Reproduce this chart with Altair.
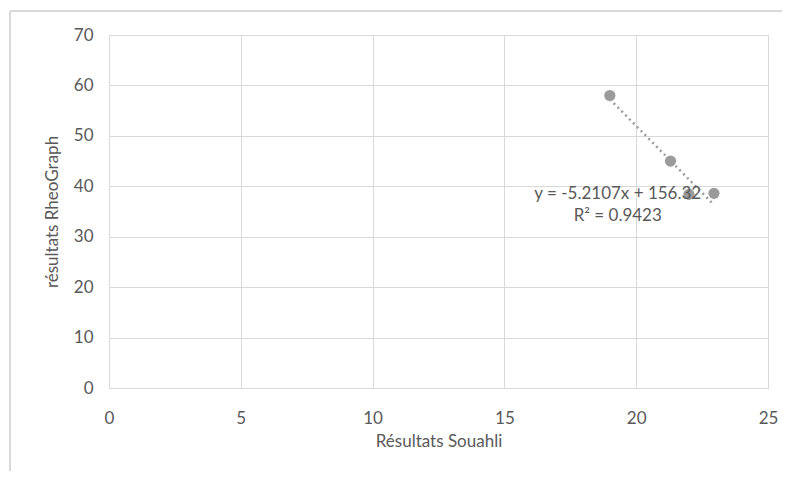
import altair as alt
import pandas as pd

# Data
souahli = [19.0, 21.3, 22.0, 22.95]
rheograph = [58.0, 45.0, 38.4, 38.6]

eq_lines = ["y = -5.2107x + 156.32", "R² = 0.9423"]
eq_x = [19.3, 19.3]
eq_y = [38.5, 34.2]

x_ticks = [0, 5, 10, 15, 20, 25]
y_ticks = [0, 10, 20, 30, 40, 50, 60, 70]

df = pd.DataFrame({"x": souahli, "y": rheograph})
eq_df = pd.DataFrame({"t": eq_lines, "x": eq_x, "y": eq_y})

GRAY = "#9b9b9b"
TXT = "#595959"
FONT = "Lato"

xs = alt.Scale(domain=[0, 25], nice=False, zero=False)
ys = alt.Scale(domain=[0, 70], nice=False, zero=False)

x_enc = alt.X("x:Q", scale=xs, title="Résultats Souahli",
              axis=alt.Axis(values=x_ticks, labelPadding=22, titlePadding=7,
                            labelFlush=False))
y_enc = alt.Y("y:Q", scale=ys, title="résultats RheoGraph",
              axis=alt.Axis(values=y_ticks, labelPadding=16, titlePadding=12))

base = alt.Chart(df)

points = base.mark_circle(size=125, opacity=1, color=GRAY).encode(x=x_enc, y=y_enc)

trend = base.transform_regression("x", "y", method="linear").mark_line(
    color=GRAY, strokeWidth=2.5, strokeDash=[2, 3.5]
).encode(x=alt.X("x:Q", scale=xs), y=alt.Y("y:Q", scale=ys))

eq = alt.Chart(eq_df).mark_text(
    font=FONT, fontSize=17, color=TXT, align="center", baseline="middle"
).encode(x=alt.X("x:Q", scale=xs), y=alt.Y("y:Q", scale=ys), text="t:N")

one = pd.DataFrame({"a": [0]})
border_left = alt.Chart(one).mark_rule(color="#d9d9d9", strokeWidth=2).encode(
    x=alt.value(-99), y=alt.value(-24), y2=alt.value(440))
border_top = alt.Chart(one).mark_rule(color="#d9d9d9", strokeWidth=2).encode(
    y=alt.value(-24), x=alt.value(-99), x2=alt.value(680))

chart = alt.layer(border_left, border_top, trend, points, eq).properties(
    width=659, height=353,
    autosize=alt.AutoSizeParams(type="none"),
    padding={"left": 101, "top": 27, "right": 14, "bottom": 83},
).configure_view(stroke="#d9d9d9", strokeWidth=1).configure_axis(
    grid=True, gridColor="#d9d9d9", gridWidth=1,
    domainColor="#d9d9d9", ticks=False,
    labelColor=TXT, titleColor=TXT, labelFont=FONT, titleFont=FONT,
    labelFontSize=17, titleFontSize=17, titleFontWeight="normal",
)

chart.save("out.html", embed_options={"renderer": "svg", "actions": False})
